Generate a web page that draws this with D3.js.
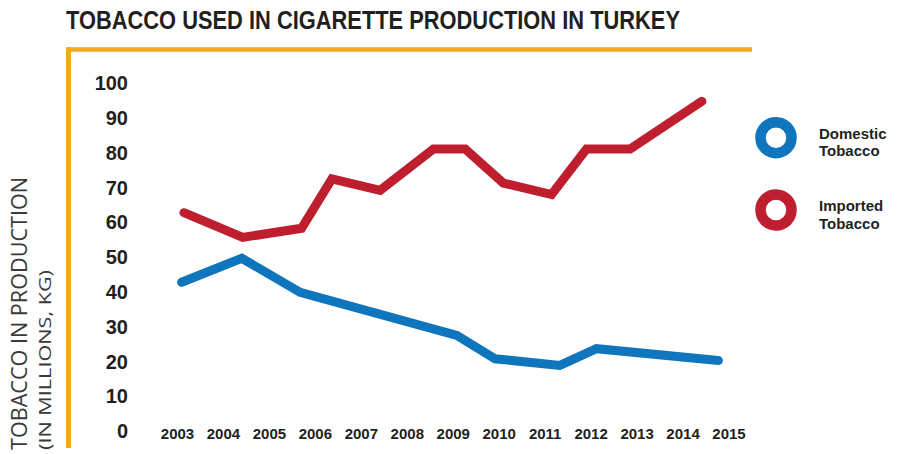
<!DOCTYPE html>
<html>
<head>
<meta charset="utf-8">
<script src="https://cdn.jsdelivr.net/npm/d3@7"></script>
<style>
  html, body { margin: 0; padding: 0; background: #fff; }
  svg { display: block; }
</style>
</head>
<body>
<svg id="chart" width="898" height="454"></svg>
<script>
// ---- data ----
const title = "TOBACCO USED IN CIGARETTE PRODUCTION IN TURKEY";
const yTitle1 = "TOBACCO IN PRODUCTION";
const yTitle2 = "(IN MILLIONS, KG)";
const years = [2003, 2004, 2005, 2006, 2007, 2008, 2009, 2010, 2011, 2012, 2013, 2014, 2015];
const yTicks = [0, 10, 20, 30, 40, 50, 60, 70, 80, 90, 100];

// Imported tobacco (vertex positions, fractional years)
const importedYear  = [2003.15, 2004.43, 2005.71, 2006.37, 2007.42, 2008.58, 2009.27, 2010.10, 2011.15, 2011.91, 2012.86, 2014.42];
const importedValue = [62.6, 55.5, 58.1, 72.3, 69.0, 80.9, 80.9, 71.1, 67.8, 80.9, 80.9, 94.6];

// Domestic tobacco
const domesticYear  = [2003.10, 2004.41, 2005.68, 2009.09, 2009.92, 2011.33, 2012.13, 2014.78];
const domesticValue = [42.6, 49.5, 39.7, 27.3, 20.6, 18.7, 23.5, 20.1];

const seriesNames = ["Domestic", "Imported"];
const seriesColors = ["#0f75bc", "#be1e2d"];

// ---- drawing ----
const svg = d3.select("#chart");
const ink = "#231f20";
const orange = "#f5a623";

const x = d3.scaleLinear().domain([2003, 2015]).range([177, 728.5]);
const y = d3.scaleLinear().domain([0, 100]).range([430.5, 82.5]);

// title
svg.append("text")
  .attr("x", 66).attr("y", 29)
  .attr("textLength", 614).attr("lengthAdjust", "spacingAndGlyphs")
  .style("font-family", "'Liberation Sans Narrow', 'Arial Narrow', 'Liberation Sans', sans-serif")
  .style("font-weight", "bold").style("font-size", "25px")
  .attr("fill", ink).text(title);

// orange frame lines
svg.append("line").attr("x1", 66).attr("x2", 752).attr("y1", 49.5).attr("y2", 49.5)
  .attr("stroke", orange).attr("stroke-width", 4.5);
svg.append("line").attr("x1", 68.5).attr("x2", 68.5).attr("y1", 47.5).attr("y2", 448)
  .attr("stroke", orange).attr("stroke-width", 5);

// y axis title
const yt = svg.append("g").attr("transform", "rotate(-90)");
yt.append("text").attr("x", -450).attr("y", 27)
  .attr("textLength", 273).attr("lengthAdjust", "spacingAndGlyphs")
  .style("font-family", "'Open Sans', 'Liberation Sans', sans-serif")
  .style("font-weight", 400).style("font-size", "21px")
  .attr("fill", "#3a3a3a").text(yTitle1);
yt.append("text").attr("x", -450).attr("y", 51)
  .attr("textLength", 180).attr("lengthAdjust", "spacingAndGlyphs")
  .style("font-family", "'Open Sans', 'Liberation Sans', sans-serif")
  .style("font-weight", 400).style("font-size", "15.5px")
  .attr("fill", "#3a3a3a").text(yTitle2);

// y axis
const yAxis = svg.append("g").attr("transform", "translate(134,0)")
  .call(d3.axisLeft(y).tickValues(yTicks).tickSize(0).tickPadding(6).tickFormat(d3.format("d")));
yAxis.select(".domain").remove();
yAxis.selectAll("text")
  .style("font-family", "'Liberation Sans', Arial, sans-serif")
  .style("font-weight", "bold").style("font-size", "20px")
  .attr("fill", ink).attr("dy", "0.36em");

// x axis
const xAxis = svg.append("g").attr("transform", "translate(0,428.5)")
  .call(d3.axisBottom(x).tickValues(years).tickSize(0).tickPadding(0).tickFormat(d3.format("d")));
xAxis.select(".domain").remove();
xAxis.selectAll("text")
  .style("font-family", "'Liberation Sans', Arial, sans-serif")
  .style("font-weight", "bold").style("font-size", "15px")
  .attr("fill", ink);

// lines
const line = d3.line().x(d => x(d[0])).y(d => y(d[1]));
const domestic = domesticYear.map((v, i) => [v, domesticValue[i]]);
const imported = importedYear.map((v, i) => [v, importedValue[i]]);

[[domestic, seriesColors[0]], [imported, seriesColors[1]]].forEach(([data, col]) => {
  svg.append("path").datum(data).attr("d", line)
    .attr("fill", "none").attr("stroke", col).attr("stroke-width", 9)
    .attr("stroke-linecap", "round").attr("stroke-linejoin", "miter");
});

// legend
const legendY = [137.7, 210];
const legend = svg.append("g");
seriesNames.forEach((name, i) => {
  const g = legend.append("g").attr("transform", `translate(776,${legendY[i]})`);
  g.append("circle").attr("r", 15.5).attr("fill", "none")
    .attr("stroke", seriesColors[i]).attr("stroke-width", 10.5);
  const t = g.append("text")
    .style("font-family", "'Liberation Sans', Arial, sans-serif")
    .style("font-weight", "bold").style("font-size", "15px").attr("fill", ink);
  t.append("tspan").attr("x", 43).attr("y", 1).text(name);
  t.append("tspan").attr("x", 43).attr("y", 18.5).text("Tobacco");
});
</script>
</body>
</html>
